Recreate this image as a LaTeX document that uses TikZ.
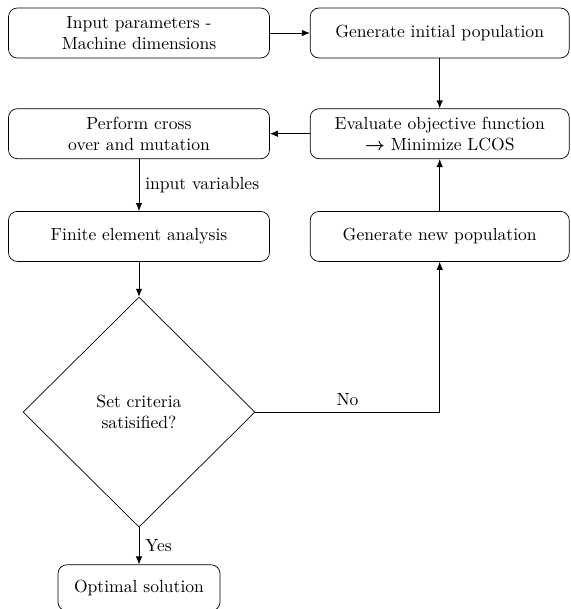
\documentclass[tikz,border=0pt]{standalone}
\usepackage{amsmath}
\usepackage{tikz}
\usetikzlibrary{arrows.meta,positioning,shapes.geometric}
\tikzset{
  blk/.style={draw,rounded corners=5pt,align=center,minimum width=5.22cm,minimum height=1.0cm,inner sep=2pt},
  dec/.style={draw,diamond,align=center,minimum width=4.64cm,minimum height=4.6cm,inner sep=0pt},
  flow/.style={-{Latex[length=1.6mm,width=1.3mm]},line width=0.5pt},
}
\begin{document}
\begin{tikzpicture}[font=\normalsize,node distance=1cm]
\useasboundingbox (0,0) rectangle (11.4,-12.18);

% ---- left column ----
\node[blk] (inp) at (2.78,-0.66) {Input parameters -\\Machine dimensions};
\node[blk,below=1.0cm of inp] (cross) {Perform cross\\over and mutation};
\node[blk,below=1.04cm of cross] (fea) {Finite element analysis};
\node[dec,below=0.7cm of fea] (crit) {Set criteria\\satisified?};
\node[blk,minimum width=3.24cm,minimum height=0.92cm,below=0.74cm of crit] (opt) {Optimal solution};

% ---- right column ----
\node[blk,minimum width=5.18cm,right=0.8cm of inp] (init) {Generate initial population};
\node[blk,minimum width=5.18cm,below=1.0cm of init] (eval) {Evaluate objective function\\$\boldsymbol{\rightarrow}$ Minimize LCOS};
\node[blk,minimum width=5.18cm,below=1.04cm of eval] (newp) {Generate new population};

% ---- connectors ----
\draw[flow] (inp) -- (init);
\draw[flow] (init) -- (eval);
\draw[flow] (eval) -- (cross);
\draw[flow] (cross) -- node[right] {input variables} (fea);
\draw[flow] (fea) -- (crit);
\draw[flow] (crit) -- node[right] {Yes} (opt);
\draw[flow] (crit.east) -- node[above,pos=0.5] {No} (crit.east -| newp) -- (newp);
\draw[flow] (newp) -- (eval);

\end{tikzpicture}
\end{document}
